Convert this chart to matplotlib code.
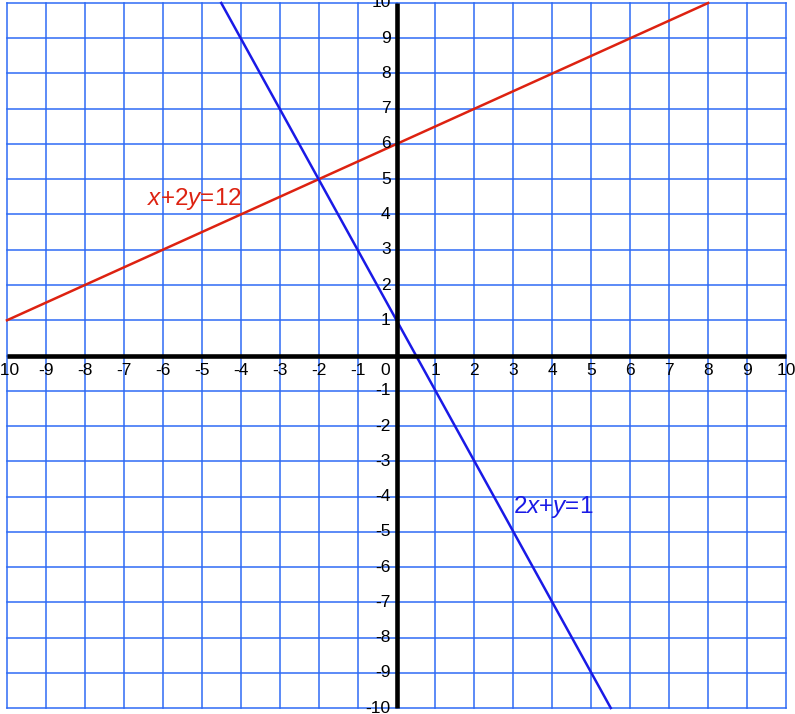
import numpy as np
import matplotlib.pyplot as plt

plt.rcParams['font.family'] = ['Liberation Sans', 'DejaVu Sans']
plt.rcParams['mathtext.fontset'] = 'custom'
plt.rcParams['mathtext.rm'] = 'Liberation Sans'
plt.rcParams['mathtext.it'] = 'Liberation Sans:italic'

# line endpoints
red_x = [-10, 8]
red_y = [1, 10]
blue_x = [-4.5, 5.5]
blue_y = [10, -10]

ticks = list(range(-10, 11))
xlabels = [str(t) for t in ticks]
ylabels = [str(t) for t in ticks]

fig = plt.figure(figsize=(7.95, 7.14), dpi=100)
ax = fig.add_axes([0, 0, 1, 1])
ax.set_xlim(-10.18, 10.23)
ax.set_ylim(-10.17, 10.085)
ax.axis('off')

for t in ticks:
    ax.plot([t, t], [-10, 10], color='#2f6bf5', lw=1.1, zorder=1)
    ax.plot([-10, 10], [t, t], color='#2f6bf5', lw=1.1, zorder=1)

ax.plot([-10, 10], [0, 0], color='black', lw=3.3, zorder=3, solid_capstyle='butt')
ax.plot([0, 0], [-10, 10], color='black', lw=3.3, zorder=3, solid_capstyle='butt')

ax.plot(red_x, red_y, color='#dd2211', lw=1.8, zorder=2)
ax.plot(blue_x, blue_y, color='#1a1ae6', lw=1.8, zorder=2)

for t, lab in zip(ticks, xlabels):
    if t == 0:
        ax.text(-0.17, -0.42, '0', ha='right', va='center', fontsize=12.5, zorder=4)
        continue
    ax.text(t, -0.42, lab, ha='center', va='center', fontsize=12.5, zorder=4)

for t, lab in zip(ticks, ylabels):
    if t == 0:
        continue
    ax.text(-0.15, t, lab, ha='right', va='center', fontsize=12.5, zorder=4)

ax.text(-6.4, 4.45, '$\\mathit{x}$+2$\\mathit{y}$=12', color='#dd2211', fontsize=17.5,
        ha='left', va='center', zorder=4)
ax.text(3.0, -4.3, '2$\\mathit{x}$+$\\mathit{y}$=1', color='#1a1ae6', fontsize=17.5,
        ha='left', va='center', zorder=4)

fig.savefig('out.png', dpi=100)
